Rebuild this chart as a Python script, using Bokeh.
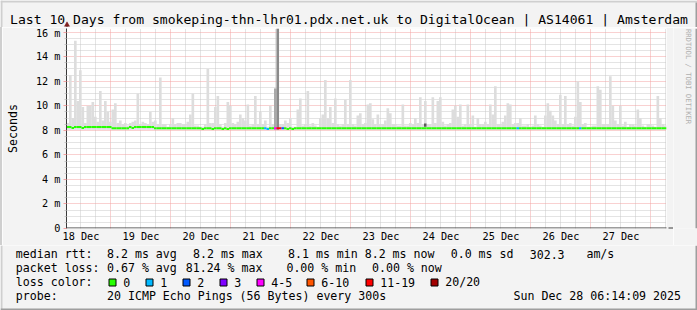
import math
from bokeh.plotting import figure
from bokeh.layouts import column, row
from bokeh.models import Range1d, FixedTicker, Arrow, NormalHead, Spacer
from bokeh.core.properties import value
from bokeh.embed import file_html
from bokeh.resources import INLINE

# ---------------- data ----------------
START_HOUR = 6 + 14 / 60 + 9 / 3600   # 18 Dec 06:14:09, hours after 18 Dec 00:00
N_HOURS = 240                          # last 10 days, one column per hour

# highest ping of each hour (ms)
smoke_max_ms = [
    8.6, 12.5, 9.0, 15.3, 10.4, 12.9, 9.9, 8.6, 10.0, 10.0, 10.3, 9.1,
    8.7, 11.2, 8.8, 10.4, 9.5, 8.7, 9.7, 10.2, 8.6, 8.8, 8.5, 8.6,
    8.4, 8.6, 8.7, 8.8, 11.0, 8.5, 8.7, 8.6, 8.5, 9.5, 8.7, 8.8,
    8.5, 12.3, 8.5, 8.5, 8.3, 8.5, 9.0, 8.5, 8.6, 8.6, 8.5, 8.5,
    8.7, 9.3, 11.0, 8.4, 8.4, 8.3, 8.3, 8.5, 13.0, 8.6, 8.6, 9.9,
    10.8, 8.5, 8.3, 8.6, 10.3, 10.0, 8.6, 8.5, 8.7, 9.3, 9.0, 8.8,
    10.1, 8.4, 8.5, 10.8, 8.5, 9.5, 8.5, 8.8, 8.3, 10.0, 8.5, 11.4,
    16.3, 8.5, 8.5, 8.8, 8.6, 9.0, 8.3, 8.3, 9.7, 10.6, 8.4, 8.5,
    11.2, 8.4, 8.6, 8.4, 8.3, 9.0, 9.3, 12.1, 9.0, 9.9, 8.6, 10.6,
    8.5, 8.4, 8.5, 10.5, 8.5, 12.1, 8.5, 8.4, 9.2, 9.4, 8.5, 8.6,
    10.1, 10.2, 8.9, 8.5, 9.3, 8.5, 8.5, 8.8, 9.8, 9.4, 8.5, 8.5,
    8.4, 8.4, 10.1, 8.4, 8.4, 8.6, 8.5, 9.0, 8.6, 10.7, 8.5, 10.4,
    8.5, 8.5, 10.7, 8.6, 10.4, 10.7, 8.7, 8.4, 8.5, 8.6, 9.7, 10.0,
    9.1, 10.1, 8.4, 8.5, 10.1, 8.5, 9.2, 8.3, 9.0, 8.5, 8.5, 8.7,
    8.5, 10.1, 9.3, 11.6, 8.5, 8.5, 8.7, 9.2, 10.2, 10.1, 8.5, 8.6,
    8.6, 9.0, 8.4, 8.4, 8.5, 8.3, 8.4, 9.2, 8.5, 8.4, 8.3, 9.2,
    10.2, 9.6, 9.2, 8.8, 8.5, 10.9, 8.5, 10.8, 8.5, 8.6, 8.4, 9.1,
    12.0, 10.3, 8.5, 8.6, 8.3, 8.3, 8.4, 8.4, 11.6, 11.3, 8.5, 8.5,
    8.5, 12.4, 10.0, 8.8, 8.5, 10.0, 8.4, 8.7, 8.3, 8.5, 8.5, 8.4,
    9.7, 9.0, 8.4, 8.3, 8.5, 8.5, 8.4, 8.3, 10.8, 9.0, 8.5, 8.4,
]
SMOKE_FLOOR_MS = 8.05   # lowest ping, about constant

# median rtt of each hour (ms)
median_ms = [
    8.27, 8.27, 8.20, 8.27, 8.27, 8.27, 8.20, 8.27, 8.27, 8.27, 8.27, 8.27,
    8.27, 8.27, 8.27, 8.27, 8.27, 8.27, 8.17, 8.17, 8.17, 8.17, 8.17, 8.17,
    8.17, 8.27, 8.20, 8.27, 8.27, 8.27, 8.27, 8.27, 8.27, 8.27, 8.27, 8.17,
    8.17, 8.17, 8.17, 8.17, 8.17, 8.17, 8.17, 8.17, 8.17, 8.17, 8.17, 8.17,
    8.17, 8.17, 8.17, 8.17, 8.17, 8.17, 8.10, 8.17, 8.17, 8.17, 8.10, 8.17,
    8.17, 8.17, 8.10, 8.17, 8.10, 8.17, 8.17, 8.17, 8.17, 8.17, 8.17, 8.17,
    8.17, 8.17, 8.17, 8.17, 8.17, 8.17, 8.17, 8.17, 8.10, 8.17, 8.17, 8.17,
    8.17, 8.17, 8.17, 8.17, 8.10, 8.17, 8.10, 8.17, 8.17, 8.17, 8.17, 8.17,
    8.17, 8.17, 8.17, 8.17, 8.17, 8.17, 8.17, 8.17, 8.17, 8.17, 8.17, 8.17,
    8.17, 8.17, 8.17, 8.17, 8.17, 8.17, 8.17, 8.17, 8.17, 8.17, 8.17, 8.17,
    8.17, 8.17, 8.17, 8.17, 8.17, 8.17, 8.17, 8.17, 8.17, 8.17, 8.17, 8.17,
    8.17, 8.17, 8.17, 8.17, 8.17, 8.17, 8.17, 8.17, 8.17, 8.17, 8.17, 8.17,
    8.17, 8.17, 8.17, 8.17, 8.17, 8.17, 8.17, 8.17, 8.17, 8.17, 8.17, 8.17,
    8.17, 8.17, 8.17, 8.17, 8.17, 8.17, 8.17, 8.17, 8.17, 8.17, 8.17, 8.17,
    8.17, 8.17, 8.17, 8.17, 8.17, 8.17, 8.17, 8.17, 8.17, 8.17, 8.17, 8.17,
    8.17, 8.17, 8.17, 8.17, 8.17, 8.17, 8.17, 8.17, 8.17, 8.17, 8.17, 8.17,
    8.17, 8.17, 8.17, 8.17, 8.17, 8.17, 8.17, 8.17, 8.17, 8.17, 8.17, 8.17,
    8.17, 8.17, 8.17, 8.17, 8.17, 8.17, 8.17, 8.17, 8.17, 8.17, 8.17, 8.17,
    8.17, 8.17, 8.17, 8.17, 8.17, 8.17, 8.17, 8.17, 8.17, 8.17, 8.17, 8.17,
    8.17, 8.17, 8.17, 8.17, 8.17, 8.17, 8.17, 8.17, 8.17, 8.17, 8.17, 8.17,
]

# hours with packet loss (lost pings out of 20)
loss_hours = [79, 80, 83, 84, 85, 86, 180, 205]
loss_pings = [1, 1, 4, 11, 11, 2, 1, 1]

# hours with dense (darker) smoke
dense_hours = [83, 84, 143]
dense_low_ms = [8.05, 8.05, 8.30]
dense_high_ms = [11.4, 16.3, 8.55]
dense_colors = ["#a9a9a9", "#8a8a8a", "#5a5a5a"]

day_labels = ["18 Dec", "19 Dec", "20 Dec", "21 Dec", "22 Dec",
              "23 Dec", "24 Dec", "25 Dec", "26 Dec", "27 Dec"]
y_tick_values = [0, 2, 4, 6, 8, 10, 12, 14, 16]
y_tick_labels = ["0", "2 m", "4 m", "6 m", "8 m", "10 m", "12 m", "14 m", "16 m"]

loss_class_min = [0, 1, 2, 3, 4, 6, 11, 20]
loss_class_labels = ["0", "1", "2", "3", "4-5", "6-10", "11-19", "20/20"]
loss_class_colors = ["#26ff00", "#00b8ff", "#0059ff", "#7e00ff",
                     "#ff00ff", "#ff5500", "#ff0000", "#a10000"]

title_text = "Last 10 Days from smokeping-thn-lhr01.pdx.net.uk to DigitalOcean | AS14061 | Amsterdam"
median_stats = ["8.2 ms avg", "8.2 ms max", "8.1 ms min", "8.2 ms now", "0.0 ms sd", "302.3", "am/s"]
loss_stats = ["0.67 % avg", "81.24 % max", "0.00 % min", "0.00 % now"]
probe_text = "20 ICMP Echo Pings (56 Bytes) every 300s"
stamp_text = "Sun Dec 28 06:14:09 2025"
watermark_text = "RRDTOOL / TOBI OETIKER"

# ---------------- style ----------------
FONT = "DejaVu Sans Mono"
BG = "#f3f3f3"
SHADE_A = "#cfcfcf"
SHADE_B = "#9e9e9e"
MAJOR_GRID = "#f2a2a2"
MINOR_GRID = "#c8c8c8"
AXIS = "#3a3a3a"
ARROW = "#7f1f1f"
SMOKE = "#dddddd"
DESCENT = 0.31          # text y correction (in em) for glyph text


def furniture_figure(w, h, x0, y0):
    """A figure whose frame is its whole canvas, in page pixel coordinates."""
    f = figure(width=w, height=h, output_backend="svg", toolbar_location=None, tools="",
               x_range=Range1d(x0, x0 + w), y_range=Range1d(y0 + h, y0), min_border=0,
               x_axis_type=None, y_axis_type=None,
               background_fill_color=BG, border_fill_color=BG, outline_line_color=None)
    f.xgrid.visible = False
    f.ygrid.visible = False
    return f


# ---------------- title strip (page y 0..27) ----------------
t = furniture_figure(697, 27, 0, 0)
t.quad(left=[0, 0, 695], right=[697, 2, 697], top=[0, 0, 2], bottom=[2, 27, 27],
       fill_color=[SHADE_A, SHADE_A, SHADE_B], line_color=None)
t.text(x=[348.5], y=[23.0 - DESCENT * 13.1], text=[title_text], text_font=value(FONT),
       text_font_size=value("13.1px"), text_color="#000000", text_align="center",
       text_baseline="alphabetic")
t.segment(x0=[66.5], y0=[27], x1=[66.5], y1=[24], line_color=AXIS, line_width=1)
t.patch(x=[64.0, 69.0, 66.5], y=[25.8, 25.8, 21.3], fill_color=ARROW, line_color=ARROW,
        line_width=0.5)

# ---------------- main graph (page x 2..673, y 27..245) ----------------
p = figure(width=671, height=218, output_backend="svg", toolbar_location=None, tools="",
           x_range=Range1d(START_HOUR, START_HOUR + N_HOURS), y_range=Range1d(0, 16.3),
           min_border_left=64, min_border_right=7, min_border_top=1, min_border_bottom=17,
           background_fill_color="#ffffff", border_fill_color=BG, outline_line_color=None,
           title=None)

noon_ticks = [12 + 24 * k for k in range(len(day_labels))]
midnights = [24 * k for k in range(1, 11)]
six_hours = [6 * k for k in range(1, 42) if k % 4 != 0]
y_minor = [0.5 * k for k in range(1, 33) if k % 4 != 0]

xa = p.xaxis[0]
xa.ticker = FixedTicker(ticks=noon_ticks)
xa.major_label_overrides = dict(zip(noon_ticks, day_labels))
xa.major_tick_in = 0
xa.major_tick_out = 0
xa.minor_tick_in = 0
xa.minor_tick_out = 0
xa.axis_line_color = None
xa.major_label_standoff = 2
xa.major_label_text_font = FONT
xa.major_label_text_font_size = "10.2px"
xa.major_label_text_color = "#000000"

ya = p.yaxis[0]
ya.ticker = FixedTicker(ticks=y_tick_values, minor_ticks=y_minor)
ya.major_label_overrides = dict(zip(y_tick_values, y_tick_labels))
ya.axis_line_color = AXIS
ya.major_tick_in = 0
ya.major_tick_out = 3
ya.major_tick_line_color = MAJOR_GRID
ya.minor_tick_in = 0
ya.minor_tick_out = 2
ya.minor_tick_line_color = MINOR_GRID
ya.major_label_standoff = 3
ya.major_label_text_font = FONT
ya.major_label_text_font_size = "10.2px"
ya.major_label_text_color = "#000000"
ya.axis_label = "Seconds"
ya.axis_label_standoff = 13
ya.axis_label_text_font = FONT
ya.axis_label_text_font_size = "11.6px"
ya.axis_label_text_font_style = "normal"
ya.axis_label_text_color = "#000000"

xg = p.xgrid[0]
xg.ticker = FixedTicker(ticks=midnights, minor_ticks=six_hours)
xg.grid_line_color = MAJOR_GRID
xg.grid_line_dash = "1 1"
xg.minor_grid_line_color = MINOR_GRID
xg.minor_grid_line_dash = "1 1"
yg = p.ygrid[0]
yg.ticker = FixedTicker(ticks=y_tick_values[1:], minor_ticks=y_minor)
yg.grid_line_color = MAJOR_GRID
yg.grid_line_dash = "1 1"
yg.minor_grid_line_color = MINOR_GRID
yg.minor_grid_line_dash = "1 1"

# smoke
lefts = [START_HOUR + i for i in range(N_HOURS)]
p.quad(left=lefts, right=[l + 1.06 for l in lefts], bottom=SMOKE_FLOOR_MS, top=smoke_max_ms,
       fill_color=SMOKE, line_color=None)
p.quad(left=[START_HOUR + h for h in dense_hours], right=[START_HOUR + h + 1 for h in dense_hours],
       bottom=dense_low_ms, top=dense_high_ms, fill_color=dense_colors, line_color=None)

# median line coloured by loss
def loss_color(n):
    c = loss_class_colors[0]
    for m, col in zip(loss_class_min, loss_class_colors):
        if n >= m:
            c = col
    return c

lost = dict(zip(loss_hours, loss_pings))
median_colors = [loss_color(lost.get(i, 0)) for i in range(N_HOURS)]
p.segment(x0=lefts, x1=[l + 1 for l in lefts], y0=median_ms, y1=median_ms,
          line_color=median_colors, line_width=2)

# x axis line with arrow head (screen units from the frame's bottom-left corner)
p.add_layout(Arrow(x_start=-3, y_start=0.5, x_end=607, y_end=0.5,
                   start_units="screen", end_units="screen", line_color=AXIS, line_width=1,
                   end=NormalHead(size=5, fill_color=ARROW, line_color=ARROW, line_width=1)))

# ---------------- right strip with watermark (page x 673..697, y 27..245) ----------------
r = furniture_figure(24, 218, 673, 27)
r.quad(left=[695], right=[697], top=[27], bottom=[245], fill_color=SHADE_B, line_color=None)
r.text(x=[687.5], y=[27.5], text=[watermark_text], text_font=value(FONT),
       text_font_size=value("7.2px"), text_color="#b0b0b0", text_align="left",
       text_baseline="middle", angle=-math.pi / 2)

# ---------------- legend block (page y 245..310) ----------------
q = furniture_figure(697, 65, 0, 245)
ROW = [257.3, 271.5, 285.5, 299.5]
row_texts = (["median rtt:"] + median_stats + ["packet loss:"] + loss_stats
             + ["loss color:"] + loss_class_labels + ["probe:", probe_text])
row_x = ([15.3, 106.5, 192.5, 287.5, 364.2, 450.2, 529.2, 585.9]
         + [15.3, 106.5, 185.2, 285.9, 371.5]
         + [15.3, 122.7, 159.7, 196.7, 233.7, 270.7, 320.7, 379.7, 444.7]
         + [15.3, 106.5])
row_y = [ROW[0]] * 8 + [ROW[1]] * 5 + [ROW[2]] * 9 + [ROW[3]] * 2
q.text(x=row_x, y=[y - DESCENT * 11.6 for y in row_y], text=row_texts, text_font=value(FONT),
       text_font_size=value("11.6px"), text_color="#000000", text_align="left",
       text_baseline="alphabetic")
q.text(x=[680.5], y=[ROW[3] - DESCENT * 11.6], text=[stamp_text], text_font=value(FONT),
       text_font_size=value("11.6px"), text_color="#000000", text_align="right",
       text_baseline="alphabetic")

box_left = [108.5, 145.5, 182.5, 219.5, 256.5, 306.5, 365.5, 430.5]
q.quad(left=box_left, right=[b + 7 for b in box_left], top=278.5, bottom=285.5,
       fill_color=loss_class_colors, line_color="#000000", line_width=1)

# 3D frame of the image, lower part
q.quad(left=[0, 695, 0], right=[2, 697, 697], top=[245, 245, 308], bottom=[310, 310, 310],
       fill_color=[SHADE_A, SHADE_B, SHADE_B], line_color=None)

left_strip = Spacer(width=2, height=218, styles={"background-color": SHADE_A})
layout = column(t, row(left_strip, p, r), q)

open("out.html", "w").write(file_html(layout, INLINE))
